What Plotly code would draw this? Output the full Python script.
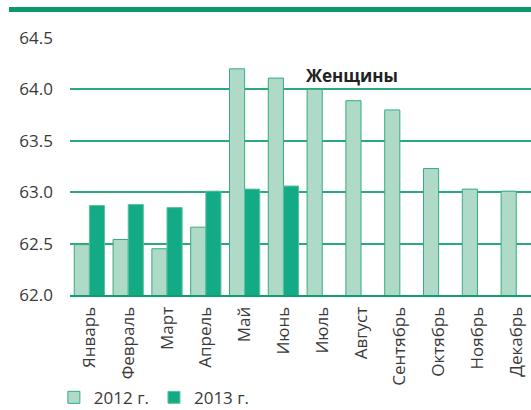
import plotly.graph_objects as go

months = ["Январь", "Февраль", "Март", "Апрель", "Май", "Июнь", "Июль",
          "Август", "Сентябрь", "Октябрь", "Ноябрь", "Декабрь"]
values_2012 = [62.49, 62.54, 62.45, 62.66, 64.20, 64.11, 64.00, 63.89, 63.80, 63.23, 63.03, 63.01]
values_2013 = [62.87, 62.88, 62.85, 63.01, 63.03, 63.06, None, None, None, None, None, None]
y_ticks = [62.0, 62.5, 63.0, 63.5, 64.0, 64.5]
title_text = "Женщины"

FONT = "Open Sans"
TXT = "#3a3a3a"

fig = go.Figure()
fig.add_trace(go.Bar(
    x=months, y=values_2012, name="2012 г.",
    marker=dict(color="#afdac8", line=dict(color="#35ad82", width=1)),
))
fig.add_trace(go.Bar(
    x=months, y=values_2013, name="2013 г.",
    marker=dict(color="#13ab85", line=dict(color="#5cc39c", width=1)),
))

fig.update_layout(
    width=531, height=410,
    margin=dict(l=70, r=0, t=38, b=115, autoexpand=False),
    paper_bgcolor="white", plot_bgcolor="white",
    barmode="group", bargap=0.22, bargroupgap=0,
    font=dict(family=FONT, size=16, color=TXT),
    showlegend=True,
    legend=dict(orientation="h", x=-0.035, xanchor="left", y=-0.40, yanchor="middle",
                font=dict(family=FONT, size=17, color=TXT),
                itemwidth=30, tracegroupgap=0,
                bgcolor="rgba(0,0,0,0)"),
    xaxis=dict(range=[-0.5, 11.38], tickangle=-90, showgrid=False,
               showline=True, linecolor="#119e6f", linewidth=2,
               ticks="", ticklabelstandoff=3, automargin=False,
               tickfont=dict(family=FONT, size=17, color=TXT)),
    yaxis=dict(range=[62.0, 64.5], tickvals=y_ticks,
               ticktext=[f"{v:.1f}" for v in y_ticks],
               showgrid=True, gridcolor="#2aa97c", gridwidth=1.5,
               zeroline=False, showline=False, ticks="", ticklabelstandoff=16,
               automargin=False,
               tickfont=dict(family=FONT, size=17, color=TXT)),
    annotations=[dict(text=f"<b>{title_text}</b>", x=0.6117, y=0.9066,
                      xref="paper", yref="paper", showarrow=False,
                      font=dict(family=FONT, size=17, color="#222222"))],
    shapes=[dict(type="rect", xref="paper", yref="paper",
                 x0=-0.1323, x1=1.0, y0=1.1012, y1=1.1206,
                 fillcolor="#0a9a6a", line=dict(width=0), layer="above")],
)

fig.write_html("out.html",
               config={"displayModeBar": False},
               post_script="document.body.style.margin='0';document.body.style.padding='0';")
